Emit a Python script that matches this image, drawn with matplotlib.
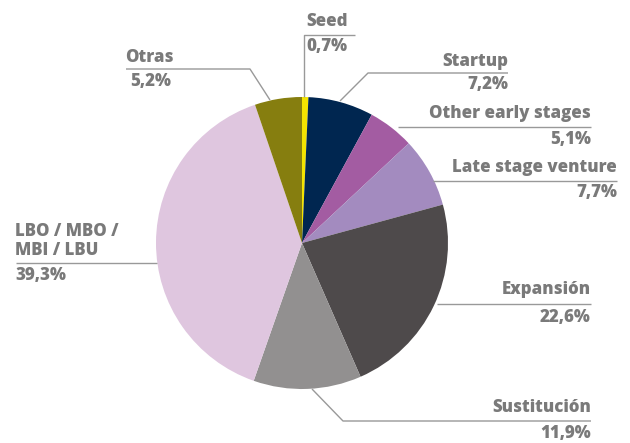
import matplotlib
matplotlib.use('Agg')
import matplotlib.pyplot as plt

# data
labels = ['Seed', 'Startup', 'Other early stages', 'Late stage venture',
          'Expansión', 'Sustitución', 'LBO / MBO /\nMBI / LBU', 'Otras']
values = [0.7, 7.2, 5.1, 7.7, 22.6, 11.9, 39.3, 5.2]
colors = ['#f4e400', '#002650', '#a35ca2', '#a38bbf',
          '#4e4a4b', '#929090', '#dfc6df', '#867e0f']

txt_col = '#7a7a7a'
line_col = '#999999'

fig = plt.figure(figsize=(6.3, 4.43), dpi=100)
ax = fig.add_axes([0, 0, 1, 1])

# pixel coordinates with y pointing down -> angles flip, so counterclock=True
ax.pie(values, colors=colors, startangle=-90, counterclock=True,
       center=(302, 243), radius=146, wedgeprops=dict(linewidth=0))

ax.set_xlim(0, 630)
ax.set_ylim(443, 0)
ax.set_aspect('equal')
ax.axis('off')

# leader lines: (x points, y points), text anchor x, alignment, name y, pct y
layout = [
    ([304, 304, 355], [97, 35, 35], 306, 'left', 21, 46),
    ([340, 368, 508], [101, 73, 73], 508, 'right', 61, 84),
    ([398, 591], [127, 127], 591, 'right', 113, 139),
    ([433, 617], [181, 181], 617, 'right', 167, 192),
    ([437, 591], [304, 304], 591, 'right', 290, 318),
    ([312, 343, 591], [389, 421, 421], 591, 'right', 408, 433),
    ([16, 157], [263, 263], 15, 'left', 241, 275),
    ([270, 250, 126], [100, 69, 69], 125, 'left', 57, 81),
]

fs = 12.2
for lab, val, (xs, ys, tx, ha, ny, py) in zip(labels, values, layout):
    ax.plot(xs, ys, color=line_col, lw=1, solid_capstyle='butt')
    ax.text(tx, ny, lab, ha=ha, va='center', color=txt_col,
            fontsize=fs, fontweight='heavy', family='Open Sans',
            linespacing=1.2)
    pct = ('%.1f' % val).replace('.', ',') + '%'
    px = tx + 5 if lab == 'Otras' else tx
    ax.text(px, py, pct, ha=ha, va='center', color=txt_col,
            fontsize=fs, fontweight='heavy', family='Open Sans')

fig.savefig('out.png', dpi=100)
